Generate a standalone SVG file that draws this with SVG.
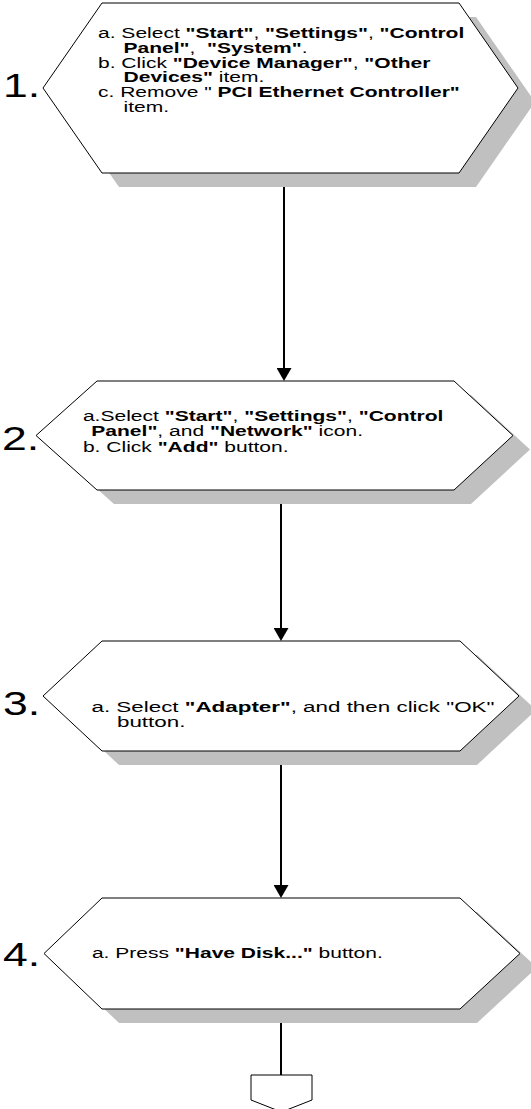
<svg xmlns="http://www.w3.org/2000/svg" width="531" height="1109" viewBox="0 0 531 1109">
<style>
.shadow{fill:#c0c0c0;stroke:none}
.hex{fill:#ffffff;stroke:#000000;stroke-width:1}
.conn{stroke:#000000;stroke-width:2;fill:none}
.t{font-family:"Liberation Sans",Arial,sans-serif;font-size:14.5px;fill:#000000}
.num{font-family:"Liberation Sans",Arial,sans-serif;font-size:33px;fill:#000000}
.b{font-weight:bold}
</style>
<defs>
<marker id="ah" viewBox="0 0 13 15" refX="0" refY="7.5" markerWidth="13" markerHeight="15" markerUnits="userSpaceOnUse" orient="auto">
<path d="M0,0 L13,7.5 L0,15 z" fill="#000000"/>
</marker>
</defs>
<g id="connectors">
<line class="conn" x1="284" y1="187" x2="284" y2="368" marker-end="url(#ah)"/>
<line class="conn" x1="281" y1="504" x2="281" y2="628" marker-end="url(#ah)"/>
<line class="conn" x1="281" y1="765" x2="281" y2="885" marker-end="url(#ah)"/>
<line class="conn" x1="281" y1="1023" x2="281" y2="1075"/>
</g>
<g id="step1">
<polygon class="shadow" points="119,17 476,17 535,102 476,187 119,187 60,102"/>
<polygon class="hex" points="102,3 459,3 518,88 459,173 102,173 43,88"/>
<text class="num" transform="translate(3,97) scale(1.35,1)" x="0" y="0">1.</text>
<g transform="scale(1.45,1)">
<text class="t" x="67.6" y="38" xml:space="preserve">a. Select <tspan class="b">"Start"</tspan>, <tspan class="b">"Settings"</tspan>, <tspan class="b">"Control</tspan></text>
<text class="t" x="85.2" y="52.8" xml:space="preserve"><tspan class="b">Panel"</tspan>,  <tspan class="b">"System"</tspan>.</text>
<text class="t" x="67.6" y="67.6" xml:space="preserve">b. Click <tspan class="b">"Device Manager"</tspan>, <tspan class="b">"Other</tspan></text>
<text class="t" x="85.2" y="82.4" xml:space="preserve"><tspan class="b">Devices"</tspan> item.</text>
<text class="t" x="67.6" y="97.2" xml:space="preserve">c. Remove " <tspan class="b">PCI Ethernet Controller"</tspan></text>
<text class="t" x="85.2" y="112" xml:space="preserve">item.</text>
</g>
</g>
<g id="step2">
<polygon class="shadow" points="114,395 471,395 530,449.5 471,504 114,504 53,449.5"/>
<polygon class="hex" points="97,381 454,381 513,435.5 454,490 97,490 36,435.5"/>
<text class="num" transform="translate(2,450) scale(1.35,1)" x="0" y="0">2.</text>
<g transform="scale(1.45,1)">
<text class="t" x="57.2" y="421" xml:space="preserve">a.Select <tspan class="b">"Start"</tspan>, <tspan class="b">"Settings"</tspan>, <tspan class="b">"Control</tspan></text>
<text class="t" x="63" y="436.5" xml:space="preserve"><tspan class="b">Panel"</tspan>, and <tspan class="b">"Network"</tspan> icon.</text>
<text class="t" x="57.2" y="452" xml:space="preserve">b. Click <tspan class="b">"Add"</tspan> button.</text>
</g>
</g>
<g id="step3">
<polygon class="shadow" points="119,655 477,655 536,710 477,765 119,765 60,710"/>
<polygon class="hex" points="102,641 460,641 519,696 460,751 102,751 43,696"/>
<text class="num" transform="translate(3,715) scale(1.35,1)" x="0" y="0">3.</text>
<g transform="scale(1.545,1)">
<text class="t" x="59.2" y="712" xml:space="preserve">a. Select <tspan class="b">"Adapter"</tspan>, and then click "OK"</text>
<text class="t" x="75.7" y="727" xml:space="preserve">button.</text>
</g>
</g>
<g id="step4">
<polygon class="shadow" points="119,912 477,912 537,967.5 477,1023 119,1023 61,967.5"/>
<polygon class="hex" points="102,898 460,898 520,953.5 460,1009 102,1009 44,953.5"/>
<text class="num" transform="translate(3,966) scale(1.35,1)" x="0" y="0">4.</text>
<g transform="scale(1.45,1)">
<text class="t" x="63.4" y="958" xml:space="preserve">a. Press <tspan class="b">"Have Disk..."</tspan> button.</text>
</g>
</g>
<g id="offpage">
<polygon class="hex" points="251,1075 312,1075 312,1100 281.5,1112 251,1100"/>
</g>
</svg>
